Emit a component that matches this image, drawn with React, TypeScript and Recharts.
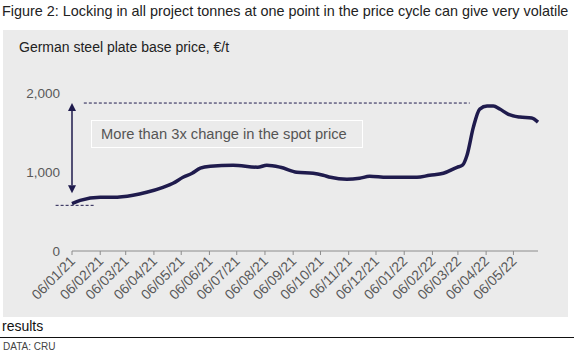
import { LineChart, Line, XAxis, YAxis, ReferenceLine } from 'recharts';

// days since 06/01/21 (dd/mm/yy) and price in €/t
const days = [0, 9, 31, 45, 67, 82, 100, 111, 122, 132, 141, 152, 177, 204, 214, 229, 247, 265, 276, 284, 302, 316, 327, 346, 357, 379, 393, 408, 423, 429, 434, 441, 448, 456, 463, 470, 479, 492, 505, 512];
const prices = [600, 641, 679, 679, 705, 743, 806, 857, 933, 984, 1048, 1073, 1086, 1060, 1086, 1060, 997, 984, 959, 933, 908, 921, 946, 933, 933, 933, 959, 984, 1060, 1086, 1213, 1568, 1797, 1835, 1835, 1797, 1733, 1695, 1683, 1632];

const tickDays = [0, 31, 59, 90, 120, 151, 181, 212, 243, 273, 304, 334, 365, 396, 424, 455, 485];
const tickLabels = ['06/01/21', '06/02/21', '06/03/21', '06/04/21', '06/05/21', '06/06/21', '06/07/21', '06/08/21', '06/09/21', '06/10/21', '06/11/21', '06/12/21', '06/01/22', '06/02/22', '06/03/22', '06/04/22', '06/05/22'];
const yTicks = [0, 1000, 2000];

// annotation levels
const peakLevel = 1873;
const lowLevel = 578;
const arrowBottom = 730;

const data = days.map((d, i) => ({ day: d, price: prices[i] }));

const FONT = "Arial, 'Liberation Sans', sans-serif";
const NAVY = '#1f1b4d';

const DateTick = ({ x, y, payload }: any) => {
  const idx = tickDays.indexOf(payload.value);
  return (
    <g transform={`translate(${x + 4},${y + 5})`}>
      <text
        transform="rotate(-45)"
        textAnchor="end"
        fill="#595959"
        fontSize={14}
        fontFamily={FONT}
      >
        {idx >= 0 ? tickLabels[idx] : ''}
      </text>
    </g>
  );
};

const Arrow = (props: any) => {
  const { x1, y1, x2, y2 } = props;
  const h = 8;
  const w = 4;
  return (
    <g>
      <line x1={x1} y1={y1 + h} x2={x2} y2={y2 - h} stroke={NAVY} strokeWidth={1.5} />
      <polygon points={`${x1},${y1} ${x1 - w},${y1 + h} ${x1 + w},${y1 + h}`} fill={NAVY} />
      <polygon points={`${x2},${y2} ${x2 - w},${y2 - h} ${x2 + w},${y2 - h}`} fill={NAVY} />
    </g>
  );
};

export default function App() {
  return (
    <div style={{ position: 'absolute', left: 0, top: 0, width: 574, height: 355, background: '#fff', fontFamily: FONT }}>
      <div style={{ position: 'absolute', left: 2, top: 3, fontSize: 14.4, color: '#222', whiteSpace: 'nowrap' }}>
        Figure 2: Locking in all project tonnes at one point in the price cycle can give very volatile
      </div>
      <div style={{ position: 'absolute', left: 3, top: 30, width: 565, height: 287, background: '#ebebeb' }} />
      <div style={{ position: 'absolute', left: 19, top: 39, fontSize: 14, color: '#222', whiteSpace: 'nowrap' }}>
        German steel plate base price, €/t
      </div>
      <div
        style={{
          position: 'absolute',
          left: 91,
          top: 120,
          width: 261,
          height: 26,
          border: '1px solid #fff',
          fontSize: 14.7,
          color: '#555',
          lineHeight: '26px',
          paddingLeft: 9,
          boxSizing: 'content-box',
          whiteSpace: 'nowrap',
        }}
      >
        More than 3x change in the spot price
      </div>
      <div style={{ position: 'absolute', left: 0, top: 0 }}>
        <LineChart width={574} height={355} data={data} margin={{ top: 93, right: 36, bottom: 44, left: 12 }}>
          <XAxis
            dataKey="day"
            type="number"
            domain={[0, 512]}
            ticks={tickDays}
            interval={0}
            height={60}
            axisLine={{ stroke: '#8c8c8c' }}
            tickLine={{ stroke: '#8c8c8c' }}
            tickSize={4}
            tick={<DateTick />}
          />
          <YAxis
            domain={[0, 2000]}
            ticks={yTicks}
            width={60}
            axisLine={false}
            tickLine={false}
            tickSize={0}
            tickMargin={12}
            tick={{ fill: '#595959', fontSize: 13.5, fontFamily: FONT }}
            tickFormatter={(v: number) => v.toLocaleString('en-US')}
          />
          <ReferenceLine
            segment={[{ x: 13, y: peakLevel }, { x: 437, y: peakLevel }]}
            stroke={NAVY}
            strokeDasharray="3 2"
            strokeWidth={1}
            ifOverflow="visible"
          />
          <ReferenceLine
            segment={[{ x: -18, y: lowLevel }, { x: 25, y: lowLevel }]}
            stroke={NAVY}
            strokeDasharray="3 2"
            strokeWidth={1}
            ifOverflow="visible"
          />
          <ReferenceLine
            segment={[{ x: 0, y: peakLevel }, { x: 0, y: arrowBottom }]}
            ifOverflow="visible"
            shape={<Arrow />}
          />
          <Line
            type="monotone"
            dataKey="price"
            stroke={NAVY}
            strokeWidth={3.5}
            dot={false}
            isAnimationActive={false}
          />
        </LineChart>
      </div>
      <div style={{ position: 'absolute', left: 2, top: 318, fontSize: 14, color: '#111' }}>results</div>
      <div style={{ position: 'absolute', left: 0, top: 337, width: 574, height: 1, background: '#111' }} />
      <div style={{ position: 'absolute', left: 3, top: 341, fontSize: 10, color: '#444' }}>DATA: CRU</div>
    </div>
  );
}
